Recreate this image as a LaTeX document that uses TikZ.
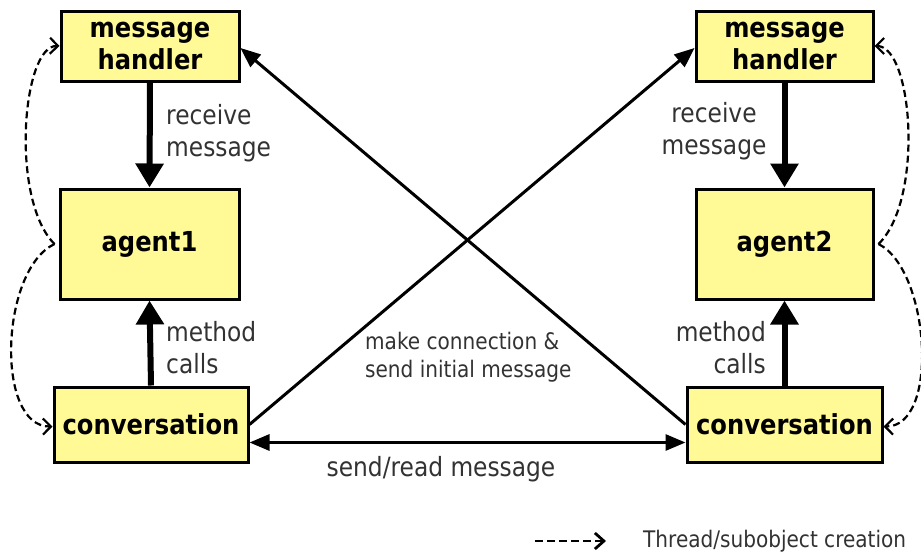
\documentclass[tikz,border=0pt]{standalone}
\usepackage{fontspec}
\setmainfont[FakeStretch=0.88]{DejaVu Sans}
\usetikzlibrary{arrows.meta,calc}
\definecolor{boxfill}{RGB}{255,250,150}
\definecolor{labelgray}{RGB}{50,50,50}
\begin{document}
\begin{tikzpicture}[x=1pt,y=-1pt,
  box/.style={draw=black, line width=3pt, fill=boxfill, align=center,
    font=\fontsize{27.5}{32}\selectfont\bfseries, inner sep=0pt},
  lbl/.style={text=labelgray, inner sep=0pt, font=\fontsize{26.5}{32}\selectfont},
  smalllbl/.style={text=labelgray, inner sep=0pt, font=\fontsize{22.8}{28}\selectfont},
  callarrow/.style={line width=6pt, -{Triangle[width=27pt,length=24pt]}},
  linkarrow/.style={line width=3pt, -{Triangle[width=16pt,length=20pt]}},
  spawn/.style={line width=2.2pt, dash pattern=on 7pt off 4pt,
    -{Straight Barb[length=8pt,width=16pt,line width=2.2pt]}}
]
\useasboundingbox[fill=white] (0,0) rectangle (921,554);

% boxes of the first agent
\node[box, minimum width=178pt, minimum height=70pt] (mh1) at (150,46) {message\\handler};
\node[box, minimum width=179pt, minimum height=110pt] (a1) at (149.5,244) {agent1};
\node[box, minimum width=194pt, minimum height=75pt] (c1) at (151,424.5) {conversation};

% boxes of the second agent
\node[box, minimum width=177pt, minimum height=70pt] (mh2) at (784.5,46) {message\\handler};
\node[box, minimum width=177pt, minimum height=110pt] (a2) at (784.5,244) {agent2};
\node[box, minimum width=195pt, minimum height=75pt] (c2) at (784.5,424.5) {conversation};

% method calls and message delivery
\draw[callarrow] (mh1.south) -- (a1.north);
\draw[callarrow] (c1.north) -- (a1.south);
\draw[callarrow] (mh2.south) -- (a2.north);
\draw[callarrow] (c2.north) -- (a2.south);

% connections between the two agents
\draw[linkarrow] (c1.east) -- ([yshift=-2pt]mh2.west);
\draw[linkarrow] (c2.west) -- ([yshift=-2pt]mh1.east);
\draw[linkarrow, {Triangle[width=16pt,length=20pt]}-{Triangle[width=16pt,length=20pt]}]
  ([yshift=-18pt]c1.east) -- ([yshift=-18pt]c2.west);

% thread / subobject creation
\draw[spawn] ([xshift=-4pt]a1.west) .. controls (10,200) and (22,45) .. (mh1.west);
\draw[spawn] ([xshift=-4pt]a1.west) .. controls (0,270) and (-5,427) .. ([yshift=-2pt]c1.west);
\draw[spawn] ([xshift=4pt]a2.east) .. controls (924,200) and (913,46) .. (mh2.east);
\draw[spawn] ([xshift=4pt]a2.east) .. controls (930,270) and (940,427) .. ([yshift=-2pt]c2.east);

% labels
\node[lbl, align=left, anchor=west] (rm1) at (166,133) {receive\\message};
\node[lbl, align=center] (rm2) at (714,131) {receive\\message};
\node[lbl, align=left, anchor=west] (mc1) at (166,348) {method\\calls};
\node[lbl, align=right, anchor=east] (mc2) at (766,348) {method\\calls};
\node[smalllbl, align=left, anchor=west] (mk) at (365,357) {make connection \&\\send initial message};
\node[lbl] (sr) at (441,469) {send/read message};

% legend
\coordinate (lg1) at (535,541);
\coordinate (lg2) at (606,541);
\draw[spawn, line width=2.8pt, dash pattern=on 8pt off 4pt,
  -{Straight Barb[length=9pt,width=16pt,line width=2.8pt]}] (lg1) -- (lg2);
\node[smalllbl, anchor=west] (lgt) at (643,541) {Thread/subobject creation};
\end{tikzpicture}
\end{document}
